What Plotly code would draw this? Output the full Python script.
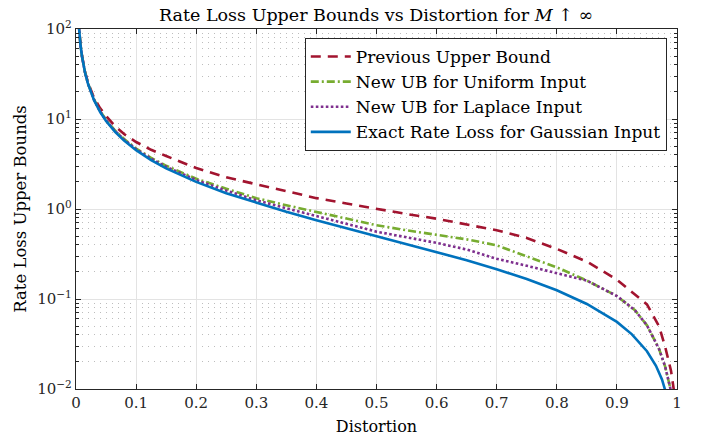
import plotly.graph_objects as go

# Distortion values (x) for each series
x_prev = [0.004, 0.005, 0.0075, 0.01, 0.015, 0.02, 0.03, 0.04, 0.05, 0.065, 0.08, 0.1, 0.125, 0.15, 0.175,
          0.2, 0.25, 0.3, 0.35, 0.4, 0.45, 0.5, 0.55, 0.6, 0.65, 0.7, 0.75, 0.8, 0.85, 0.9, 0.93, 0.95,
          0.97, 0.98, 0.99, 0.995]
y_prev = [124, 100, 67, 50, 33.5, 25.3, 17.2, 13.2, 10.8, 8.3, 6.8, 5.55, 4.55, 3.88, 3.3,
          2.85, 2.25, 1.88, 1.57, 1.32, 1.15, 1.0, 0.88, 0.78, 0.67, 0.58, 0.476, 0.36, 0.26, 0.164, 0.112, 0.087,
          0.050, 0.030, 0.016, 0.0095]

x_unif = [0.004, 0.005, 0.0075, 0.01, 0.015, 0.02, 0.03, 0.04, 0.05, 0.065, 0.08, 0.1, 0.125, 0.15, 0.175,
          0.2, 0.25, 0.3, 0.35, 0.4, 0.45, 0.5, 0.55, 0.6, 0.65, 0.7, 0.75, 0.8, 0.85, 0.9, 0.93, 0.95,
          0.97, 0.98, 0.99, 0.993]
y_unif = [124, 100, 66.5, 50, 33.2, 24.8, 16.5, 12.3, 9.8, 7.45, 6.0, 4.7, 3.7, 3.02, 2.55,
          2.17, 1.68, 1.32, 1.1, 0.93, 0.78, 0.66, 0.58, 0.52, 0.46, 0.395, 0.30, 0.225, 0.16, 0.108, 0.075, 0.051,
          0.028, 0.018, 0.0095, 0.006]

x_lap = [0.004, 0.005, 0.0075, 0.01, 0.015, 0.02, 0.03, 0.04, 0.05, 0.065, 0.08, 0.1, 0.125, 0.15, 0.175,
         0.2, 0.25, 0.3, 0.35, 0.4, 0.45, 0.5, 0.55, 0.6, 0.65, 0.7, 0.75, 0.8, 0.85, 0.9, 0.93, 0.95,
         0.97, 0.98, 0.99, 0.993]
y_lap = [124, 100, 66.3, 49.8, 33.0, 24.6, 16.4, 12.2, 9.7, 7.35, 5.9, 4.62, 3.62, 2.95, 2.48,
         2.1, 1.6, 1.25, 1.02, 0.83, 0.68, 0.56, 0.485, 0.42, 0.355, 0.28, 0.234, 0.194, 0.16, 0.108, 0.075, 0.051,
         0.028, 0.018, 0.0095, 0.006]

x_gauss = [0.004, 0.005, 0.0075, 0.01, 0.015, 0.02, 0.03, 0.04, 0.05, 0.065, 0.08, 0.1, 0.125, 0.15, 0.175,
           0.2, 0.25, 0.3, 0.35, 0.4, 0.45, 0.5, 0.55, 0.6, 0.65, 0.7, 0.75, 0.8, 0.85, 0.9, 0.925, 0.95,
           0.965, 0.975, 0.98, 0.985]
y_gauss = [124, 99.5, 66, 49.5, 32.8, 24.5, 16.2, 12.0, 9.5, 7.2, 5.75, 4.5, 3.5, 2.83, 2.36,
           2.0, 1.5, 1.17, 0.93, 0.75, 0.61, 0.5, 0.41, 0.333, 0.27, 0.214, 0.167, 0.125, 0.088, 0.0556, 0.0405, 0.0263,
           0.0181, 0.0128, 0.0102, 0.0076]

names = ["Previous Upper Bound", "New UB for Uniform Input",
         "New UB for Laplace Input", "Exact Rate Loss for Gaussian Input"]

x_ticks = [0, 0.1, 0.2, 0.3, 0.4, 0.5, 0.6, 0.7, 0.8, 0.9, 1]
x_ticklabels = ["0", "0.1", "0.2", "0.3", "0.4", "0.5", "0.6", "0.7", "0.8", "0.9", "1"]
y_ticks = [0.01, 0.1, 1, 10, 100]
y_ticklabels = ["10<sup>−2</sup>", "10<sup>−1</sup>", "10<sup>0</sup>", "10<sup>1</sup>", "10<sup>2</sup>"]
y_minor = [m * d for d in [0.01, 0.1, 1, 10] for m in range(2, 10)]

FONT = "DejaVu Serif"
AX = "#262626"
W, H = 709, 438

fig = go.Figure()
fig.add_trace(go.Scatter(x=x_prev, y=y_prev, mode="lines", name=names[0],
                         line=dict(color="#A2142F", width=2.6, dash="10px,7px")))
fig.add_trace(go.Scatter(x=x_unif, y=y_unif, mode="lines", name=names[1],
                         line=dict(color="#77AC30", width=2.6, dash="8px,3px,2px,3px")))
fig.add_trace(go.Scatter(x=x_lap, y=y_lap, mode="lines", name=names[2],
                         line=dict(color="#7E2F8E", width=2.6, dash="2.6px,2.4px")))
fig.add_trace(go.Scatter(x=x_gauss, y=y_gauss, mode="lines", name=names[3],
                         line=dict(color="#0072BD", width=2.6)))

fig.update_layout(
    width=W, height=H,
    margin=dict(l=76, r=32, t=29, b=49),
    paper_bgcolor="white", plot_bgcolor="white",
    font=dict(family=FONT, size=15, color="#262626"),
    title=dict(text="Rate Loss Upper Bounds vs Distortion for <i>M</i> ↑ ∞",
               x=376 / W, xanchor="center", y=1 - 15 / H, yanchor="middle",
               font=dict(family=FONT, size=17.5, color="black")),
    legend=dict(x=0.983, xanchor="right", y=0.975, yanchor="top",
                bgcolor="white", bordercolor="#262626", borderwidth=1, itemwidth=40,
                font=dict(family=FONT, size=17, color="black")),
    showlegend=True,
)
fig.update_xaxes(
    range=[0, 1], tickvals=x_ticks, ticktext=x_ticklabels, automargin=False,
    showline=True, linecolor=AX, linewidth=1.2, mirror="allticks",
    ticks="inside", ticklen=5, tickcolor=AX,
    showgrid=True, gridcolor="#e3e3e3", gridwidth=1, zeroline=False,
    title=dict(text="Distortion", font=dict(family=FONT, size=16, color="black"), standoff=9),
    tickfont=dict(family=FONT, size=15, color="#262626"),
)
fig.update_yaxes(
    type="log", range=[-2, 2], tickvals=y_ticks, ticktext=y_ticklabels, automargin=False,
    showline=True, linecolor=AX, linewidth=1.2, mirror="allticks",
    ticks="inside", ticklen=5, tickcolor=AX,
    showgrid=True, gridcolor="#e3e3e3", gridwidth=1, zeroline=False,
    minor=dict(tickvals=y_minor, ticks="inside", ticklen=3, tickcolor=AX,
               showgrid=True, gridcolor="#bdbdbd", griddash="1px,5px", gridwidth=1),
    title=dict(text="Rate Loss Upper Bounds", font=dict(family=FONT, size=16.5, color="black"), standoff=6),
    tickfont=dict(family=FONT, size=15, color="#262626"),
)

# remove the default 8 px page margin so the figure fills the window exactly
fig.write_html("out.html",
               config={"displayModeBar": False, "displaylogo": False, "staticPlot": True},
               post_script="document.body.style.margin='0';document.body.style.padding='0';"
                           "document.body.style.overflow='hidden';")
